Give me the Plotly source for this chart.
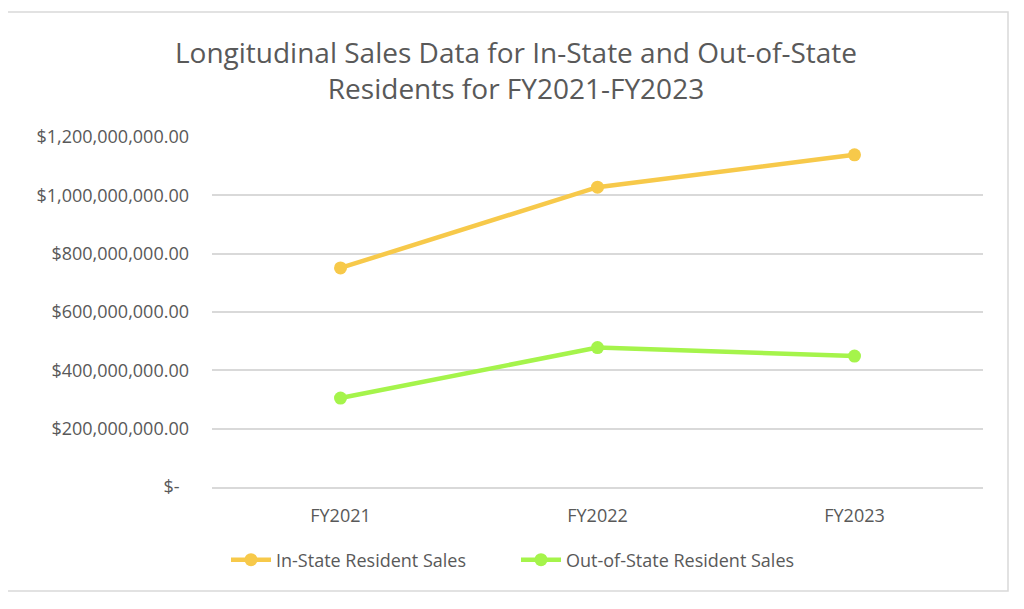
import plotly.graph_objects as go

years = ["FY2021", "FY2022", "FY2023"]
in_state = [751_000_000, 1_028_000_000, 1_139_000_000]
out_state = [305_000_000, 478_000_000, 449_000_000]
y_ticks = [0, 200_000_000, 400_000_000, 600_000_000, 800_000_000, 1_000_000_000, 1_200_000_000]


def money(v):
    return "$-\u00a0\u00a0" if v == 0 else f"${v:,.2f}"


# page body has an 8px margin, so the figure is drawn 8px in from the corner
W, H = 1016, 601
L, R, T, B = 204, 41, 129, 122
pw, ph = W - L - R, H - T - B
grey = "#595959"
font = "Open Sans"

fig = go.Figure()
fig.add_trace(go.Scatter(x=years, y=in_state, name="In-State Resident Sales",
                         mode="lines+markers",
                         line=dict(color="#F7C94A", width=4.5),
                         marker=dict(size=13, color="#F7C94A")))
fig.add_trace(go.Scatter(x=years, y=out_state, name="Out-of-State Resident Sales",
                         mode="lines+markers",
                         line=dict(color="#A5F44B", width=4.5),
                         marker=dict(size=13, color="#A5F44B")))

# outer chart border
fig.add_shape(type="rect", xref="paper", yref="paper",
              x0=(-1 - L) / pw, x1=(1000 - L) / pw,
              y0=(H - B - 583) / ph, y1=(H - B - 4) / ph,
              line=dict(color="#D9D9D9", width=1.5), layer="below")

fig.update_layout(
    width=W, height=H, template="plotly_white",
    paper_bgcolor="white", plot_bgcolor="white",
    margin=dict(l=L, r=R, t=T, b=B),
    font=dict(family=font, color=grey, size=15),
    title=dict(text="Longitudinal Sales Data for In-State and Out-of-State<br>Residents for FY2021-FY2023",
               x=0.5, xref="container", xanchor="center",
               yref="container", y=1 - 55 / H, yanchor="middle",
               font=dict(size=28, color=grey, family=font)),
    showlegend=True,
    legend=dict(orientation="h", x=0.5, xanchor="center", xref="container",
                yref="container", y=1 - 552 / H, yanchor="middle",
                font=dict(size=18, color=grey),
                itemwidth=40, entrywidth=235, entrywidthmode="pixels",
                traceorder="normal"),
    hovermode=False,
)
fig.update_xaxes(type="category", range=[-0.5, 2.5], showgrid=False,
                 showline=True, linecolor="#D9D9D9", linewidth=1.5,
                 ticks="", tickfont=dict(size=18, color=grey),
                 ticklabelstandoff=12, zeroline=False)
fig.update_yaxes(range=[0, 1_200_000_000], tickvals=y_ticks,
                 ticktext=[money(v) for v in y_ticks],
                 showgrid=True, gridcolor="#D9D9D9", gridwidth=1.5,
                 showline=False, zeroline=False, ticks="",
                 tickfont=dict(size=18, color=grey), ticklabelstandoff=22)

fig.write_html("out.html")
